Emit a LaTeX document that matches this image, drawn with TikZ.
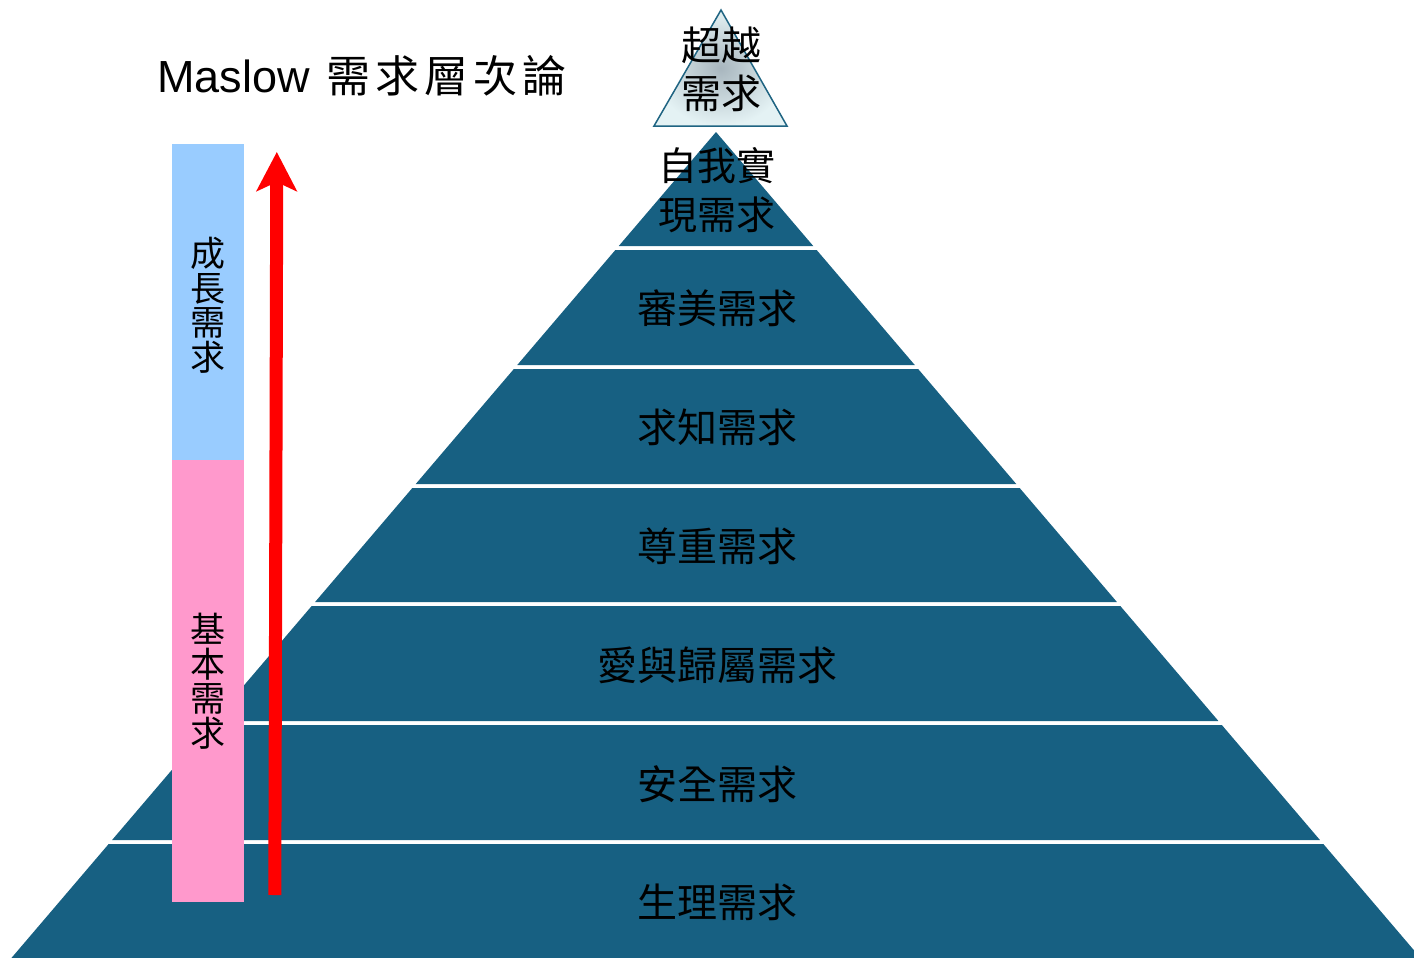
\documentclass[tikz,border=0pt]{standalone}
\usepackage{fontspec}
\setmainfont{Liberation Sans}
\newfontfamily\cjk{Noto Sans CJK TC}
\usetikzlibrary{arrows.meta}
\definecolor{pyr}{RGB}{23,96,130}
\definecolor{growth}{RGB}{153,204,255}
\definecolor{basic}{RGB}{255,153,204}
\definecolor{tealline}{RGB}{31,100,130}
\definecolor{topin}{RGB}{168,182,190}
\definecolor{topout}{RGB}{228,242,244}
\begin{document}
\begin{tikzpicture}[x=1pt,y=-1pt,
  band/.style={fill=pyr,draw=none},
  lbl/.style={font=\cjk\fontsize{40}{48}\selectfont,text=black,inner sep=0pt,align=center},
  vlbl/.style={font=\cjk\fontsize{35}{34.5}\selectfont,text=black,inner sep=0pt,align=center},
  barbox/.style={draw=none,inner sep=0pt,minimum width=72pt,anchor=north west}]
\useasboundingbox (0,0) rectangle (1414,958);
% pyramid bands
\fill[band] (716,132) -- ({716+0.853*114},246) -- ({716-0.853*114},246) -- cycle;
\foreach \t/\b in {250/365,369/484,488/602,606/721,725/840,844/958}{
  \fill[band] ({716-0.853*(\t-132)},\t) -- ({716+0.853*(\t-132)},\t)
    -- ({716+0.853*(\b-132)},\b) -- ({716-0.853*(\b-132)},\b) -- cycle;
}
% top triangle
\path[draw=tealline,line width=1.5pt,shading=radial,inner color=topin,outer color=topout]
  (721,10) -- (787,126) -- (654,126) -- cycle;
\node[lbl] (t0) at (721,69) {超越\\需求};
\node[lbl,font=\cjk\fontsize{39}{49}\selectfont] (t1) at (717,190) {自我實\\現需求};
\node[lbl] (t2) at (717,308) {審美需求};
\node[lbl] (t3) at (717,427) {求知需求};
\node[lbl] (t4) at (717,546) {尊重需求};
\node[lbl] (t5) at (717,665) {愛與歸屬需求};
\node[lbl] (t6) at (717,784) {安全需求};
\node[lbl] (t7) at (717,902) {生理需求};
% bars
\node[barbox,fill=growth,minimum height=316pt] (grow) at (172,144) {};
\node[barbox,fill=basic,minimum height=442pt] (base) at (172,460) {};
\node[vlbl] (gl) at (208,305) {成\\長\\需\\求};
\node[vlbl] (bl) at (208,681) {基\\本\\需\\求};
% arrow
\coordinate (as) at (274.8,895);
\coordinate (ae) at (276.8,152);
\draw[red,line width=13pt,-{Stealth[length=39pt,width=40pt,inset=9pt]}] (as) -- (ae);
% title
\node[inner sep=0pt,anchor=base west] (title) at (157,92.5)
  {\fontsize{45}{46}\selectfont Maslow\hspace{17pt}{\cjk\addfontfeatures{LetterSpace=11}\fontsize{44}{46}\selectfont 需求層次論}};
\end{tikzpicture}
\end{document}
